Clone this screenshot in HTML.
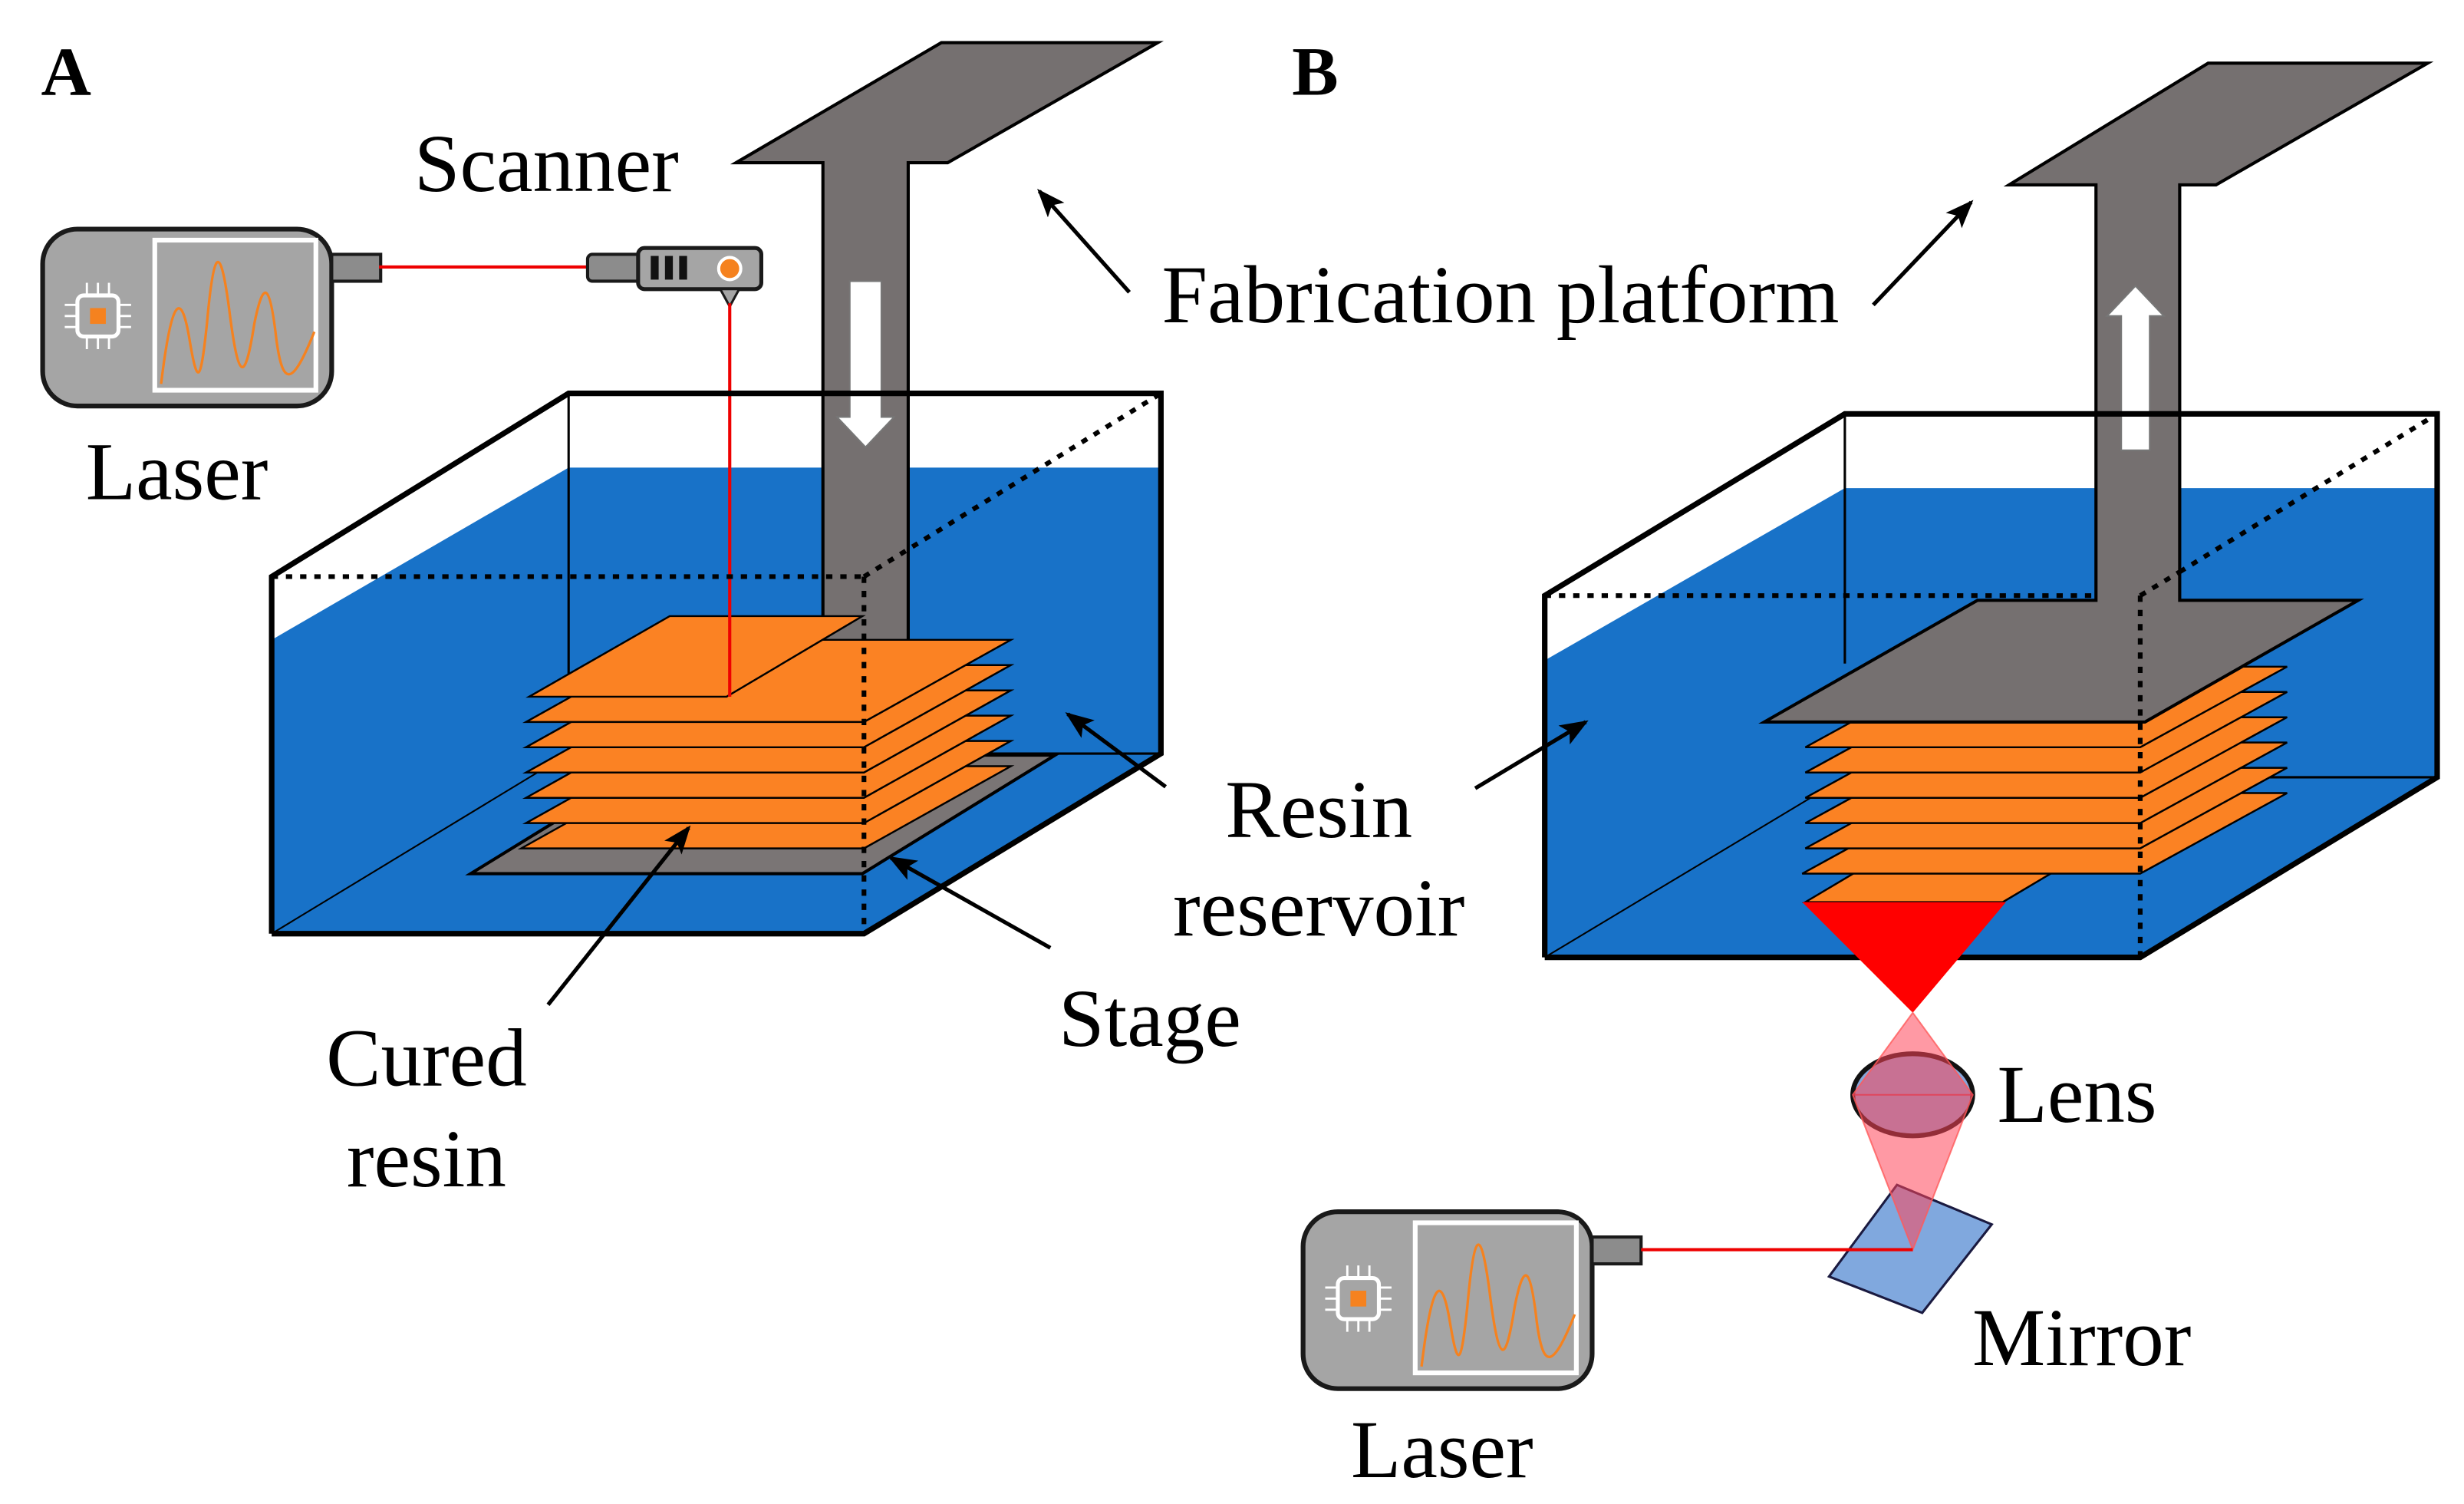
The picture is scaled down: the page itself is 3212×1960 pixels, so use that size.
<!DOCTYPE html>
<html><head><meta charset="utf-8"><style>
html,body{margin:0;padding:0;background:#fff;}
svg{display:block;}
text{font-family:"Liberation Serif",serif;fill:#000;}
</style></head><body>
<svg width="3212" height="1960" viewBox="0 0 1560 952" preserveAspectRatio="none" xmlns="http://www.w3.org/2000/svg">
<defs>
<marker id="ah2" markerWidth="18" markerHeight="14" refX="16" refY="7" orient="auto" markerUnits="userSpaceOnUse" viewBox="0 0 18 14">
<path d="M0,0 L18,7 L0,14 L4,7 z" fill="#000"/>
</marker>
<g id="laser">
<rect x="0" y="0" width="183" height="112" rx="22" fill="#a5a5a5" stroke="#1a1a1a" stroke-width="3"/>
<rect x="71" y="7" width="102" height="95" fill="#a5a5a5" stroke="#fff" stroke-width="3"/>
<path d="M75,98 C82,40 88,40 93,70 C98,100 100,98 104,60 C108,15 112,5 118,50 C124,98 128,98 134,60 C140,30 144,35 148,70 C152,100 158,100 172,65" fill="none" stroke="#f5821f" stroke-width="1.6"/>
<rect x="22" y="42" width="26" height="26" rx="4" fill="none" stroke="#fff" stroke-width="2.5"/>
<rect x="30" y="50" width="10" height="10" fill="#f5821f"/>
<g stroke="#fff" stroke-width="1.4">
<line x1="28" y1="34" x2="28" y2="42"/><line x1="35" y1="34" x2="35" y2="42"/><line x1="42" y1="34" x2="42" y2="42"/>
<line x1="28" y1="68" x2="28" y2="76"/><line x1="35" y1="68" x2="35" y2="76"/><line x1="42" y1="68" x2="42" y2="76"/>
<line x1="14" y1="48" x2="22" y2="48"/><line x1="14" y1="55" x2="22" y2="55"/><line x1="14" y1="62" x2="22" y2="62"/>
<line x1="48" y1="48" x2="56" y2="48"/><line x1="48" y1="55" x2="56" y2="55"/><line x1="48" y1="62" x2="56" y2="62"/>
</g>
<rect x="183" y="16" width="31" height="17" fill="#8c8c8c" stroke="#1a1a1a" stroke-width="2"/>
</g>
</defs>

<!-- ===== PANEL A ===== -->
<text x="26" y="60" font-size="44" font-weight="bold">A</text>
<use href="#laser" x="27" y="145"/>
<line x1="240" y1="169" x2="373" y2="169" stroke="#e00" stroke-width="2"/>
<rect x="372" y="161" width="34" height="17" rx="3" fill="#8c8c8c" stroke="#1a1a1a" stroke-width="2"/>
<rect x="404" y="157" width="78" height="26" rx="4" fill="#a5a5a5" stroke="#1a1a1a" stroke-width="2.5"/>
<rect x="412" y="162" width="5" height="15" fill="#111"/><rect x="421" y="162" width="5" height="15" fill="#111"/><rect x="430" y="162" width="5" height="15" fill="#111"/>
<circle cx="462" cy="170" r="7" fill="#f5821f" stroke="#fff" stroke-width="2"/>
<path d="M456,183 L468,183 L462,194 z" fill="#a5a5a5" stroke="#1a1a1a" stroke-width="1.5"/>

<polygon points="172,405 360,296 735,296 735,477 547,591 172,591" fill="#1872c8"/>
<line x1="360" y1="249" x2="360" y2="428" stroke="#000" stroke-width="1.5"/>
<line x1="172" y1="591" x2="360" y2="477" stroke="#000" stroke-width="1"/>
<line x1="547" y1="477" x2="735" y2="477" stroke="#000" stroke-width="1.5"/>
<polygon points="466,103 596,27 733,27 600,103 575,103 575,410 521,410 521,103" fill="#757070" stroke="#000" stroke-width="2"/>
<polygon points="538,178 558,178 558,264 566,264 548,283 530,264 538,264" fill="#fff" stroke="#777" stroke-width="1"/>
<polygon points="298,553 546,553 668,478 420,478" fill="#7a7575" stroke="#000" stroke-width="2"/>
<g fill="#fb8223" stroke="#000" stroke-width="1.2">
<polygon points="330,537 547,537 640,485 423,485"/>
<polygon points="333,521 547,521 640,469 426,469"/>
<polygon points="333,505 547,505 640,453 426,453"/>
<polygon points="333,489 547,489 640,437 426,437"/>
<polygon points="333,473 547,473 640,421 426,421"/>
<polygon points="333,457 547,457 640,405 426,405"/>
<polygon points="335,441 460,441 546,390 424,390"/>
</g>
<line x1="462" y1="192" x2="462" y2="441" stroke="#e00" stroke-width="2"/>
<g fill="none" stroke="#000">
<polyline points="172,591 172,365 360,249 735,249 735,477 547,591 172,591" stroke-width="3.5"/>
<g stroke-width="3" stroke-dasharray="4,5">
<line x1="172" y1="365" x2="547" y2="365"/>
<line x1="547" y1="365" x2="547" y2="591"/>
<line x1="547" y1="365" x2="735" y2="249"/>
</g>
</g>
<g stroke="#000" stroke-width="2.5" fill="none">
<line x1="715" y1="185" x2="658" y2="121" marker-end="url(#ah2)"/>
<line x1="738" y1="498" x2="676" y2="452" marker-end="url(#ah2)"/>
<line x1="665" y1="600" x2="564" y2="543" marker-end="url(#ah2)"/>
<line x1="347" y1="636" x2="436" y2="524" marker-end="url(#ah2)"/>
</g>
<g font-size="52" text-anchor="middle">
<text x="346" y="121">Scanner</text>
<text x="112" y="316">Laser</text>
<text x="950" y="204">Fabrication platform</text>
<text x="835" y="530">Resin</text>
<text x="835" y="592">reservoir</text>
<text x="728" y="662">Stage</text>
<text x="270" y="687">Cured</text>
<text x="270" y="751">resin</text>
</g>

<!-- ===== PANEL B ===== -->
<text x="818" y="60" font-size="44" font-weight="bold">B</text>
<polygon points="978,418 1168,309 1543,309 1543,492 1355,606 978,606" fill="#1872c8"/>
<line x1="1168" y1="262" x2="1168" y2="420" stroke="#000" stroke-width="1.5"/>
<line x1="978" y1="606" x2="1168" y2="492" stroke="#000" stroke-width="1"/>
<line x1="1355" y1="492" x2="1543" y2="492" stroke="#000" stroke-width="1.5"/>
<g fill="#fb8223" stroke="#000" stroke-width="1.2">
<polygon points="1143,571 1268,571 1300,552 1175,552"/>
<polygon points="1141,553 1355,553 1448,502 1234,502"/>
<polygon points="1143,537 1355,537 1448,486 1236,486"/>
<polygon points="1143,521 1355,521 1448,470 1236,470"/>
<polygon points="1143,505 1355,505 1448,454 1236,454"/>
<polygon points="1143,489 1355,489 1448,438 1236,438"/>
<polygon points="1143,473 1355,473 1448,422 1236,422"/>
</g>
<polygon points="1272,117 1398,40 1537,40 1403,117 1380,117 1380,380 1493,380 1358,457 1117,457 1252,380 1327,380 1327,117" fill="#757070" stroke="#000" stroke-width="2"/>
<polygon points="1343,285 1361,285 1361,200 1370,200 1352,181 1334,200 1343,200" fill="#fff" stroke="#777" stroke-width="1"/>
<g fill="none" stroke="#000">
<polyline points="978,606 978,377 1168,262 1543,262 1543,492 1355,606 978,606" stroke-width="3.5"/>
<g stroke-width="3" stroke-dasharray="4,5">
<line x1="978" y1="377" x2="1327" y2="377"/>
<line x1="1355" y1="377" x2="1355" y2="606"/>
<line x1="1355" y1="377" x2="1380" y2="362"/>
<line x1="1380" y1="362" x2="1543" y2="262"/>
</g>
</g>
<polygon points="1141,571 1270,571 1211,641" fill="#f00"/>
<polygon points="1158,808 1201,750 1261,775 1217,831" fill="#80a8de" stroke="#1a1a40" stroke-width="1.5"/>
<ellipse cx="1211" cy="693" rx="38" ry="26" fill="#86a6da" stroke="#111" stroke-width="3"/>
<polygon points="1211,641 1249,693 1211,791 1173,693" fill="rgba(255,70,90,0.55)" stroke="rgba(255,90,90,0.8)" stroke-width="1"/>
<line x1="1173" y1="693" x2="1249" y2="693" stroke="rgba(230,60,80,0.8)" stroke-width="1"/>
<use href="#laser" x="825" y="767"/>
<line x1="1039" y1="791" x2="1211" y2="791" stroke="#e00" stroke-width="2"/>
<g stroke="#000" stroke-width="2.5" fill="none">
<line x1="1186" y1="193" x2="1248" y2="128" marker-end="url(#ah2)"/>
<line x1="934" y1="499" x2="1004" y2="457" marker-end="url(#ah2)"/>
</g>
<g font-size="52" text-anchor="middle">
<text x="1315" y="710">Lens</text>
<text x="1318" y="864">Mirror</text>
<text x="913" y="935">Laser</text>
</g>
</svg>
</body></html>
